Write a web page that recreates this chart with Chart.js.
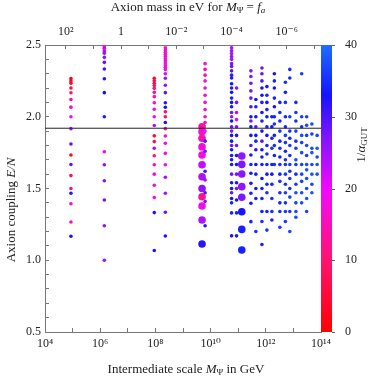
<!DOCTYPE html>
<html>
<head>
<meta charset="utf-8">
<script src="https://cdn.jsdelivr.net/npm/chart.js@4.4.1/dist/chart.umd.min.js"></script>
<style>
  html, body { margin: 0; padding: 0; background: #fff; }
  #wrap { width: 374px; height: 377px; }
</style>
</head>
<body>
<div id="wrap"><canvas id="chart" width="374" height="377"></canvas></div>
<script>
// columns of models: log10 of the intermediate scale M_Psi in GeV
const columnLogM = [4.94, 6.15, 7.96, 8.36, 9.80, 9.69, 10.76, 10.94, 11.13,
  11.46, 11.64, 11.86, 12.04, 12.22, 12.31, 12.51, 12.71, 12.87, 13.09, 13.30, 13.48, 13.67, 13.86];

// E/N of each model in a column
const columnEN = [
  [2.267, 2.25, 2.233, 2.2, 2.167, 2.12, 2.067, 2.0, 1.917, 1.81, 1.733, 1.667, 1.59, 1.5, 1.467, 1.394, 1.267, 1.167],
  [2.488, 2.477, 2.465, 2.453, 2.442, 2.414, 2.379, 2.333, 2.265, 2.168, 2.0, 1.756, 1.666, 1.554, 1.42, 1.24, 1.0],
  [2.268, 2.251, 2.233, 2.217, 2.198, 2.17, 2.14, 2.098, 2.052, 2.0, 1.939, 1.867, 1.827, 1.781, 1.728, 1.666, 1.6, 1.523, 1.437, 1.332, 1.068],
  [2.48, 2.465, 2.45, 2.435, 2.42, 2.405, 2.39, 2.375, 2.36, 2.345, 2.33, 2.30, 2.268, 2.22, 2.168, 2.098, 2.066, 2.035, 2.0, 1.96, 1.917, 1.866, 1.815, 1.745, 1.666, 1.578, 1.467, 1.334, 1.169],
  [2.37, 2.33, 2.29, 2.25, 2.2, 2.15, 2.1, 2.05, 2.0, 1.96, 1.90, 1.83, 1.76, 1.62, 1.56, 1.47, 1.41, 1.24],
  [1.93, 1.896, 1.85, 1.79, 1.733, 1.666, 1.582, 1.5, 1.443, 1.378, 1.28, 1.113],
  [2.48, 2.46, 2.44, 2.42, 2.40, 2.37, 2.35, 2.32, 2.29, 2.27, 2.23, 2.2, 2.17, 2.13, 2.1, 2.07, 2.03, 2.0, 1.97, 1.93, 1.9, 1.87, 1.83, 1.8, 1.77, 1.73, 1.7, 1.667, 1.6, 1.54, 1.5, 1.47, 1.43, 1.4, 1.33, 1.17],
  [2.2, 2.1, 2.03, 1.98, 1.93, 1.87, 1.8, 1.73, 1.667, 1.6, 1.54, 1.5, 1.42, 1.33, 1.17],
  [1.726, 1.668, 1.601, 1.513, 1.439, 1.338, 1.215, 1.071],
  [2.32, 2.28, 2.233, 2.18, 2.13, 2.07, 2.0, 1.97, 1.93, 1.87, 1.8, 1.733, 1.667, 1.606, 1.536, 1.467, 1.397, 1.269],
  [2.12, 2.07, 2.0, 1.93, 1.87, 1.83, 1.77, 1.667, 1.6, 1.5, 1.43, 1.2],
  [2.34, 2.3, 2.25, 2.2, 2.15, 2.1, 2.03, 1.97, 1.9, 1.83, 1.77, 1.72, 1.667, 1.57, 1.5, 1.43, 1.34, 1.27, 1.11],
  [2.21, 2.15, 2.1, 2.05, 2.0, 1.93, 1.87, 1.8, 1.74, 1.667, 1.6, 1.53, 1.47, 1.34, 1.21],
  [2.0, 1.93, 1.85, 1.78, 1.667, 1.6, 1.53, 1.43, 1.34, 1.28],
  [2.3, 2.25, 2.2, 2.13, 2.07, 2.0, 1.95, 1.87, 1.8, 1.73, 1.667],
  [2.1, 2.03, 1.97, 1.9, 1.83, 1.78, 1.72, 1.667, 1.6, 1.55, 1.47, 1.4, 1.34, 1.23],
  [2.24, 2.17, 2.1, 2.0, 1.93, 1.87, 1.82, 1.76, 1.7, 1.667, 1.6, 1.53, 1.47, 1.4, 1.34, 1.27],
  [2.33, 2.27, 2.0, 1.9, 1.85, 1.8, 1.73, 1.667, 1.62, 1.57, 1.5, 1.44, 1.34, 1.2],
  [2.1, 2.03, 1.97, 1.9, 1.83, 1.78, 1.7, 1.667, 1.6, 1.53, 1.47, 1.4, 1.34, 1.3],
  [2.3, 2.0, 1.93, 1.87, 1.82, 1.75, 1.667, 1.6, 1.55, 1.47, 1.4],
  [2.0, 1.94, 1.87, 1.8, 1.73, 1.667, 1.63, 1.57, 1.5, 1.43, 1.34],
  [1.95, 1.88, 1.78, 1.75, 1.667, 1.6, 1.53, 1.47],
  [1.87, 1.78, 1.72, 1.667, 1.6]
];

// 1/alpha_GUT of each model (colour scale)
const columnInvAlpha = [
  [2, 3, 4, 6, 10, 13, 16, 20, 25, 29, 3, 29, 8, 12, 32, 17, 18, 33],
  [20, 24, 20, 25, 26, 27, 29, 31, 32, 33, 34, 19, 26, 27, 28, 26, 26],
  [4, 5, 7, 8, 10, 12, 15, 17, 19, 20, 24, 3, 6, 25, 10, 16, 17, 18, 19, 33, 33],
  [15, 16, 17, 18, 16, 17, 18, 19, 17, 18, 19, 22, 25, 26, 29, 32, 33, 8, 9, 33, 12, 16, 18, 19, 19, 25, 25, 28, 33],
  [17, 16, 15, 17, 16, 15, 18, 17, 16, 15, 20, 30, 28, 31, 26, 30, 27, 32],
  [14, 17, 15, 18, 19, 23, 24, 26, 13, 19, 24, 32],
  [24, 25, 24, 26, 25, 27, 28, 30, 31, 32, 33, 32, 33, 34, 33, 33, 28, 26, 33, 28, 27, 33, 33, 28, 33, 34, 33, 33, 28, 33, 33, 29, 33, 34, 34, 33],
  [27, 28, 24, 22, 27, 33, 28, 33, 33, 28, 33, 28, 33, 34, 33],
  [26, 27, 26, 26, 27, 33, 34, 34],
  [27, 27, 28, 28, 29, 30, 33, 28, 33, 33, 29, 33, 34, 33, 33, 34, 33, 34],
  [33, 34, 33, 29, 33, 34, 33, 33, 34, 33, 34, 35],
  [28, 29, 30, 33, 33, 34, 33, 34, 33, 29, 33, 34, 34, 33, 34, 34, 34, 35, 34],
  [33, 34, 33, 34, 33, 34, 33, 34, 35, 34, 33, 34, 35, 34, 35],
  [34, 33, 34, 35, 34, 33, 34, 35, 35, 34],
  [33, 34, 33, 34, 33, 34, 35, 34, 35, 34, 35],
  [34, 35, 34, 35, 34, 35, 34, 35, 34, 35, 35, 34, 35, 36],
  [35, 34, 35, 34, 35, 36, 35, 34, 35, 35, 36, 35, 36, 35, 36, 36],
  [35, 35, 36, 35, 34, 36, 35, 36, 35, 36, 35, 36, 36, 37],
  [35, 36, 35, 36, 35, 36, 37, 36, 35, 36, 37, 36, 37, 37],
  [36, 36, 35, 37, 36, 37, 36, 37, 36, 37, 37],
  [36, 37, 36, 37, 36, 37, 38, 37, 37, 38, 37],
  [37, 36, 37, 38, 37, 38, 37, 38],
  [37, 38, 37, 38, 38]
];

// marker class of each column (1 small, 2 large)
const columnMarker = [1, 1, 1, 1, 1, 2, 1, 1, 2, 1, 1, 1, 1, 1, 1, 1, 1, 1, 1, 1, 1, 1, 1];

// axis ticks
const yTickStep = 0.1;
const yLabelValues = [0.5, 1.0, 1.5, 2.0, 2.5];
const bottomTickExp = [4, 5, 6, 7, 8, 9, 10, 11, 12, 13, 14];
const massTickExp = [2, 1, 0, -1, -2, -3, -4, -5, -6, -7];
const massLabelExp = [2, 0, -2, -4, -6];
const faTimesMass = 5.7e6; // m_a [eV] = 5.7e6 GeV / f_a
const couplingLine = 1.92;
const colorTicks = [0, 10, 20, 30, 40];

// colour map for 1/alpha_GUT
const colorStops = [
  [0, [255, 0, 0]],
  [10, [255, 20, 110]],
  [20, [240, 10, 255]],
  [27, [130, 20, 255]],
  [33, [20, 20, 255]],
  [40, [30, 110, 255]]
];
function colorFor(v) {
  for (let i = 1; i < colorStops.length; i++) {
    if (v <= colorStops[i][0]) {
      const [a, ca] = colorStops[i - 1], [b, cb] = colorStops[i];
      const t = (v - a) / (b - a);
      const c = ca.map((x, k) => Math.round(x + (cb[k] - x) * t));
      return `rgb(${c[0]},${c[1]},${c[2]})`;
    }
  }
  const c = colorStops[colorStops.length - 1][1];
  return `rgb(${c[0]},${c[1]},${c[2]})`;
}

const supMap = { '0': '⁰', '1': '¹', '2': '²', '3': '³', '4': '⁴', '5': '⁵', '6': '⁶', '7': '⁷', '8': '⁸', '9': '⁹', '-': '⁻' };
const pow10Label = e => e === 0 ? '1' : '10' + String(e).split('').map(c => supMap[c]).join('');

const datasets = [];
columnLogM.forEach((lm, i) => {
  datasets.push({
    type: 'scatter',
    data: columnEN[i].map((en, j) => ({ x: Math.pow(10, lm), y: en, c: columnInvAlpha[i][j] })),
    pointRadius: columnMarker[i] === 2 ? 3.8 : 1.8,
    pointHoverRadius: columnMarker[i] === 2 ? 3.8 : 1.8,
    pointBorderWidth: 0,
    pointBackgroundColor: ctx => colorFor(ctx.raw ? ctx.raw.c : 0),
    xAxisID: 'x', yAxisID: 'y', order: columnMarker[i] === 2 ? 2 : 1
  });
});
datasets.push({
  type: 'line',
  data: [{ x: 1e4, y: couplingLine }, { x: 1e14, y: couplingLine }],
  borderColor: '#222', borderWidth: 1, pointRadius: 0, xAxisID: 'x', yAxisID: 'y', order: 0
});

const serif = '"Liberation Serif", "DejaVu Serif", serif';
const tickFont = { family: serif, size: 12 };

function drawRich(ctx, parts, x, y) {
  let total = 0;
  parts.forEach(p => { ctx.font = p.font; total += ctx.measureText(p.t).width; });
  let cx = x - total / 2;
  parts.forEach(p => {
    ctx.font = p.font;
    ctx.fillText(p.t, cx, y + (p.dy || 0));
    cx += ctx.measureText(p.t).width;
  });
}

const decorations = {
  id: 'decorations',
  afterDraw(chart) {
    const ctx = chart.ctx, area = chart.chartArea, cb = chart.scales.cb;
    // colour bar
    const grad = ctx.createLinearGradient(0, cb.getPixelForValue(0), 0, cb.getPixelForValue(40));
    colorStops.forEach(([v, c]) => grad.addColorStop(v / 40, `rgb(${c[0]},${c[1]},${c[2]})`));
    ctx.save();
    ctx.fillStyle = grad;
    ctx.fillRect(area.right, area.top, 11, area.bottom - area.top);
    ctx.strokeStyle = '#666';
    ctx.lineWidth = 1;
    colorTicks.forEach(v => {
      const py = Math.round(cb.getPixelForValue(v)) + 0.5;
      ctx.beginPath(); ctx.moveTo(area.right + 11, py); ctx.lineTo(area.right + 14, py); ctx.stroke();
    });
    ctx.fillStyle = '#222';
    ctx.textBaseline = 'middle';
    const big = '13px ' + serif, ital = 'italic 13px ' + serif, sub = '9px ' + serif, isub = 'italic 9px ' + serif;
    drawRich(ctx, [{ t: 'Intermediate scale ', font: big }, { t: 'M', font: ital }, { t: 'Ψ', font: sub, dy: 3 }, { t: ' in GeV', font: big }], (area.left + area.right) / 2 + 3, 370);
    drawRich(ctx, [{ t: 'Axion mass in eV for ', font: big }, { t: 'M', font: ital }, { t: 'Ψ', font: sub, dy: 3 }, { t: ' = ', font: big }, { t: 'f', font: ital }, { t: 'a', font: isub, dy: 3 }], (area.left + area.right) / 2 + 5, 8);
    ctx.save();
    ctx.translate(12, 210);
    ctx.rotate(-Math.PI / 2);
    drawRich(ctx, [{ t: 'Axion coupling ', font: big }, { t: 'E/N', font: ital }], 0, 0);
    ctx.restore();
    ctx.save();
    ctx.translate(362, 145);
    ctx.rotate(-Math.PI / 2);
    drawRich(ctx, [{ t: '1/', font: big }, { t: 'α', font: ital }, { t: 'GUT', font: sub, dy: 3 }], 0, 0);
    ctx.restore();
    ctx.restore();
  }
};

new Chart(document.getElementById('chart'), {
  data: { datasets },
  options: {
    responsive: false,
    animation: false,
    devicePixelRatio: 1,
    layout: { padding: 0 },
    plugins: { legend: { display: false }, tooltip: { enabled: false } },
    scales: {
      x: {
        type: 'logarithmic', position: 'bottom', min: 1e4, max: 1e14,
        afterBuildTicks: s => { s.ticks = bottomTickExp.map(e => ({ value: Math.pow(10, e) })); },
        afterFit: s => { s.height = 45; },
        ticks: {
          autoSkip: false, maxRotation: 0, padding: 9, color: '#222', font: tickFont,
          callback: v => { const e = Math.round(Math.log10(v)); return e % 2 === 0 ? pow10Label(e) : ''; }
        },
        grid: { drawOnChartArea: false, tickLength: -4, color: '#777' },
        border: { color: '#777' }
      },
      x2: {
        type: 'logarithmic', position: 'top', min: 1e4, max: 1e14,
        afterBuildTicks: s => { s.ticks = massTickExp.map(e => ({ value: faTimesMass / Math.pow(10, e) })); },
        afterFit: s => { s.height = 45; },
        ticks: {
          autoSkip: false, maxRotation: 0, padding: 10, color: '#222', font: tickFont,
          callback: v => { const e = Math.round(Math.log10(faTimesMass / v)); return massLabelExp.includes(e) ? pow10Label(e) : ''; }
        },
        grid: { drawOnChartArea: false, tickLength: -4, color: '#777' },
        border: { color: '#777' }
      },
      y: {
        type: 'linear', position: 'left', min: 0.5, max: 2.5,
        afterBuildTicks: s => {
          const t = [];
          for (let v = 0.5; v <= 2.5001; v += yTickStep) t.push({ value: Math.round(v * 10) / 10 });
          s.ticks = t;
        },
        afterFit: s => { s.width = 45; },
        ticks: {
          autoSkip: false, padding: 8, color: '#222', font: tickFont,
          callback: v => yLabelValues.some(l => Math.abs(l - v) < 1e-6) ? v.toFixed(1) : ''
        },
        grid: { drawOnChartArea: false, tickLength: -4, color: '#777' },
        border: { color: '#777' }
      },
      cb: {
        type: 'linear', position: 'right', min: 0, max: 40,
        afterBuildTicks: s => { s.ticks = colorTicks.map(v => ({ value: v })); },
        afterFit: s => { s.width = 53; },
        ticks: { padding: 16, color: '#222', font: tickFont },
        grid: { display: false },
        border: { display: false }
      }
    }
  },
  plugins: [decorations]
});
</script>
</body>
</html>
